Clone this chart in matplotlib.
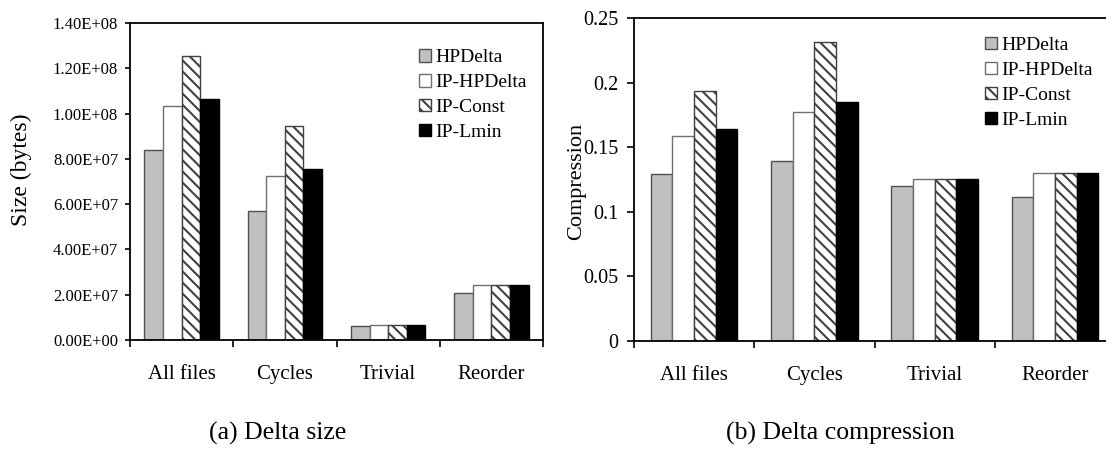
import numpy as np
import matplotlib
matplotlib.use('Agg')
import matplotlib.pyplot as plt
from matplotlib.ticker import FuncFormatter

plt.rcParams['font.family'] = 'Liberation Serif'
plt.rcParams['hatch.linewidth'] = 1.5

categories = ['All files', 'Cycles', 'Trivial', 'Reorder']
series = ['HPDelta', 'IP-HPDelta', 'IP-Const', 'IP-Lmin']

# (a) delta size in bytes
size_hpdelta = [8.40e7, 5.70e7, 6.3e6, 2.08e7]
size_ip_hpdelta = [1.035e8, 7.25e7, 6.7e6, 2.42e7]
size_ip_const = [1.256e8, 9.45e7, 6.7e6, 2.42e7]
size_ip_lmin = [1.065e8, 7.55e7, 6.7e6, 2.42e7]
size_ticks = [0, 2e7, 4e7, 6e7, 8e7, 1e8, 1.2e8, 1.4e8]

# (b) delta compression
comp_hpdelta = [0.1295, 0.139, 0.1197, 0.1112]
comp_ip_hpdelta = [0.159, 0.177, 0.1254, 0.1298]
comp_ip_const = [0.1937, 0.2314, 0.1254, 0.1298]
comp_ip_lmin = [0.164, 0.1849, 0.1254, 0.1298]
comp_ticks = [0, 0.05, 0.1, 0.15, 0.2, 0.25]

styles = [
    dict(color='#c0c0c0', edgecolor='#505050'),
    dict(color='white', edgecolor='#707070'),
    dict(color='white', edgecolor='#404040', hatch='\\\\\\'),
    dict(color='black', edgecolor='black'),
]

fig = plt.figure(figsize=(11.06, 4.59), dpi=100)
ax1 = fig.add_axes([130/1106, 119/459, 413/1106, 317/459])
ax2 = fig.add_axes([634/1106, 118/459, 481/1106, 323/459])

bw = 0.18
x = np.arange(len(categories)) + 0.5


def draw(ax, data, ticks, fmt, tick_fs, tlen, tpad):
    for i, (vals, st) in enumerate(zip(data, styles)):
        ax.bar(x + (i - 1.5) * bw, vals, bw, label=series[i], linewidth=1, **st)
    ax.set_xlim(0, 4)
    ax.set_ylim(ticks[0], ticks[-1])
    ax.set_yticks(ticks)
    ax.yaxis.set_major_formatter(FuncFormatter(fmt))
    ax.tick_params(axis='y', direction='out', length=tlen, width=1.2, pad=tpad, labelsize=tick_fs)
    ax.set_xticks(x)
    ax.set_xticklabels(categories, fontsize=15)
    ax.tick_params(axis='x', which='major', length=0, pad=18)
    ax.set_xticks(np.arange(5), minor=True)
    ax.tick_params(axis='x', which='minor', direction='out', length=5, width=1.2)
    for s in ax.spines.values():
        s.set_linewidth(1.3)
        s.set_color('black')


draw(ax1, [size_hpdelta, size_ip_hpdelta, size_ip_const, size_ip_lmin],
     size_ticks, lambda v, p: f'{v:.2E}', 12, 3.5, 5)
draw(ax2, [comp_hpdelta, comp_ip_hpdelta, comp_ip_const, comp_ip_lmin],
     comp_ticks, lambda v, p: f'{v:g}', 14.5, 5, 6)

ax1.set_ylabel('Size (bytes)', fontsize=17)
ax1.yaxis.set_label_coords(-0.238, 0.536)
ax2.set_ylabel('Compression', fontsize=16)
ax2.yaxis.set_label_coords(-0.10, 0.494)

leg_kw = dict(frameon=False, fontsize=14, handlelength=0.62, handleheight=0.62,
              handletextpad=0.2, labelspacing=0.4, borderpad=0, borderaxespad=0,
              loc='upper left')
ax1.legend(bbox_to_anchor=(0.70, 0.918), **leg_kw)
ax2.legend(bbox_to_anchor=(0.73, 0.942), **leg_kw)

fig.text(278/1106, 1 - 433/459, '(a) Delta size', fontsize=18.5, ha='center', va='center')
fig.text(840/1106, 1 - 433/459, '(b) Delta compression', fontsize=18.5, ha='center', va='center')

fig.savefig('out.png', dpi=100)
